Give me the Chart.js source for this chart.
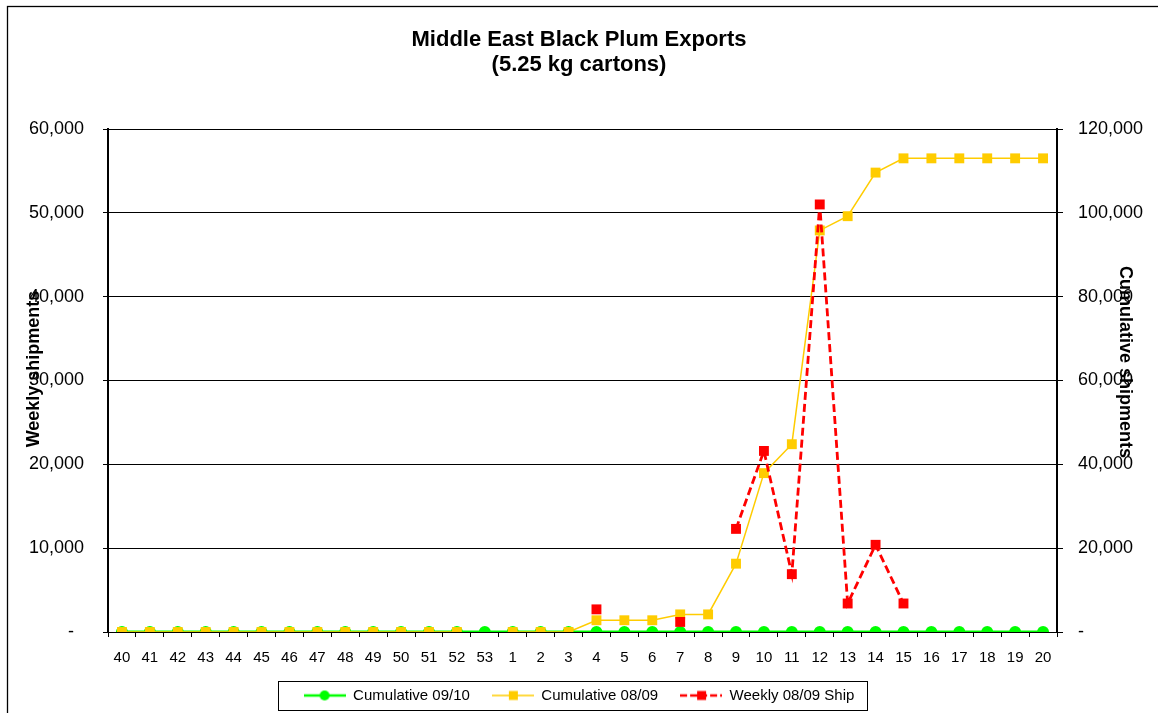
<!DOCTYPE html>
<html>
<head>
<meta charset="utf-8">
<script src="https://cdn.jsdelivr.net/npm/chart.js"></script>
<style>
  body { margin: 0; background: #fff; }
  #wrap { width: 1158px; height: 713px; }
</style>
</head>
<body>
<div id="wrap">
    <canvas id="myChart" width="1158" height="713"></canvas>
</div>
<script>

// week numbers, season runs from week 40 through 53 and on to week 20
const weeks = ['40','41','42','43','44','45','46','47','48','49','50','51','52','53',
  '1','2','3','4','5','6','7','8','9','10','11','12','13','14','15','16','17','18','19','20'];

// Cumulative 09/10 (right axis)
const cum0910 = [0,0,0,0,0,0,0,0,0,0,0,0,0,0,
  0,0,0,0,0,0,0,0,0,0,0,0,0,0,0,0,0,0,0,0];

// Cumulative 08/09 (right axis) - no week 53 that season
const cum0809 = [0,0,0,0,0,0,0,0,0,0,0,0,0,null,
  0,0,0,2800,2800,2800,4200,4200,16300,37900,44800,95800,99200,109600,113000,113000,113000,113000,113000,113000];

// Weekly 08/09 shipments (left axis)
const weekly0809 = [null,null,null,null,null,null,null,null,null,null,null,null,null,null,
  null,null,null,2700,null,null,1200,null,12300,21600,6900,51000,3400,10400,3400,null,null,null,null,null];

const titleLines = ['Middle East Black Plum Exports', '(5.25 kg cartons)'];
const leftTitle = 'Weekly shipments';
const rightTitle = 'Cumulative shipments';

Chart.defaults.font.family = '"Liberation Sans", Arial, sans-serif';
Chart.defaults.color = '#000';

// little line+marker pictures for the legend
function legendSymbol(color, dash, lineW, marker) {
    const c = document.createElement('canvas');
    c.width = 42; c.height = 14;
    const g = c.getContext('2d');
    g.strokeStyle = color;
    g.lineWidth = lineW;
    g.setLineDash(dash);
    g.beginPath();
    g.moveTo(0, 7);
    g.lineTo(42, 7);
    g.stroke();
    g.fillStyle = color;
    if (marker === 'circle') {
        g.beginPath();
        g.arc(21, 7, 5, 0, Math.PI * 2);
        g.fill();
    } else {
        g.fillRect(17, 2.5, 9, 9);
    }
    return c;
}
const symbols = [
    legendSymbol('#00FF00', [], 2.5, 'circle'),
    legendSymbol('#FFCC00', [], 1.5, 'rect'),
    legendSymbol('#FF0000', [7, 3], 2.5, 'rect')
];

const tickFmt = (pad) => (v) => v === 0 ? '-' + pad : v.toLocaleString('en-US');

const frame = {
    id: 'frame',
    beforeDraw(chart) {
        const ctx = chart.ctx;
        ctx.save();
        ctx.fillStyle = '#fff';
        ctx.fillRect(0, 0, chart.width, chart.height);
        ctx.strokeStyle = '#000';
        ctx.lineWidth = 1.3;
        ctx.strokeRect(7.5, 6.5, chart.width + 50, chart.height + 50);
        ctx.restore();
    },
    afterDraw(chart) {
        const ctx = chart.ctx;
        const a = chart.chartArea;
        ctx.save();
        ctx.fillStyle = '#000';
        ctx.font = 'bold 18px "Liberation Sans", Arial, sans-serif';
        ctx.textAlign = 'center';
        ctx.textBaseline = 'middle';
        // axis titles sit over the tick labels, like the original
        ctx.save();
        ctx.translate(a.left - 74, a.top + 240);
        ctx.rotate(-Math.PI / 2);
        ctx.fillText(leftTitle, 0, 0);
        ctx.restore();
        ctx.save();
        ctx.translate(a.right + 68, a.top + 233);
        ctx.rotate(Math.PI / 2);
        ctx.fillText(rightTitle, 0, 0);
        ctx.restore();

        // box round the legend
        const hb = chart.legend.legendHitBoxes;
        if (hb && hb.length) {
            const last = hb[hb.length - 1];
            const l = hb[0].left - 26;
            const r = last.left + last.width + 12;
            const t = hb[0].top - 7;
            const b = hb[0].top + hb[0].height + 7;
            ctx.strokeStyle = '#000';
            ctx.lineWidth = 1;
            ctx.strokeRect(Math.round(l) + 0.5, Math.round(t) + 0.5, Math.round(r - l), Math.round(b - t));
        }
        ctx.restore();
    }
};

const data = {
  labels: weeks,
  datasets: [{
    label: 'Cumulative 09/10',
    data: cum0910,
    yAxisID: 'y2',
    borderColor: '#00FF00',
    backgroundColor: '#00FF00',
    borderWidth: 3,
    pointStyle: 'circle',
    pointRadius: 6,
    pointBorderWidth: 0,
    order: 3
  },{
    label: 'Cumulative 08/09',
    data: cum0809,
    yAxisID: 'y2',
    borderColor: '#FFCC00',
    backgroundColor: '#FFCC00',
    borderWidth: 1.5,
    pointStyle: 'rect',
    pointRadius: 7,
    pointBorderWidth: 0,
    order: 2
  },{
    label: 'Weekly 08/09 Ship',
    data: weekly0809,
    yAxisID: 'y',
    borderColor: '#FF0000',
    backgroundColor: '#FF0000',
    borderWidth: 2.8,
    borderDash: [8, 4],
    pointStyle: 'rect',
    pointRadius: 7,
    pointBorderWidth: 0,
    order: 1
  }]
};

const config = {
  type: 'line',
  data: data,
  plugins: [frame],
  options: {
    responsive: false,
    animation: false,
    spanGaps: false,
    layout: { padding: { left: 0, right: 0, top: 0, bottom: 0 } },
    plugins: {
        title: {
            display: true,
            text: titleLines,
            font: { size: 22, weight: 'bold', lineHeight: 1.15 },
            padding: { top: 27.4, bottom: 51 }
        },
        legend: {
            position: 'bottom',
            labels: {
                font: { size: 15 },
                usePointStyle: true,
                pointStyleWidth: 42,
                padding: 22,
                sort: (a, b) => a.datasetIndex - b.datasetIndex,
                generateLabels(chart) {
                    const items = Chart.defaults.plugins.legend.labels.generateLabels(chart);
                    items.forEach(it => { it.pointStyle = symbols[it.datasetIndex]; });
                    return items;
                }
            }
        },
        tooltip: { enabled: false }
    },
    scales: {
        x: {
            offset: true,
            grid: { offset: true, drawOnChartArea: false, drawTicks: true, tickLength: 5, color: '#000' },
            border: { color: '#000', width: 1 },
            ticks: { font: { size: 15 }, padding: 12, maxRotation: 0, autoSkip: false },
            afterFit(s) { s.height = 34; }
        },
        y: {
            position: 'left',
            min: 0,
            max: 60000,
            ticks: { stepSize: 10000, font: { size: 18 }, padding: 19, callback: tickFmt('  ') },
            grid: { color: '#000', lineWidth: 1, tickLength: 5 },
            border: { color: '#000', width: 2 },
            afterFit(s) { s.width = 108; }
        },
        y2: {
            position: 'right',
            min: 0,
            max: 120000,
            ticks: { stepSize: 20000, font: { size: 18 }, padding: 15, callback: tickFmt('') },
            grid: { drawOnChartArea: false, color: '#000', tickLength: 6 },
            border: { color: '#000', width: 2 },
            afterFit(s) { s.width = 101; }
        }
    }
  }
};

const myChart = new Chart(
  document.getElementById('myChart'),
  config
);

</script>
</body>
</html>
